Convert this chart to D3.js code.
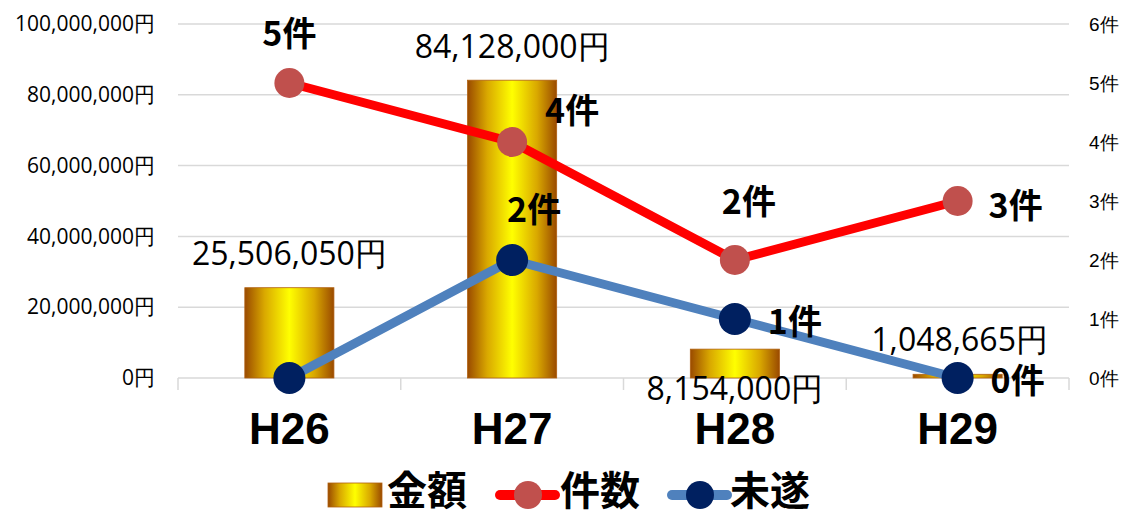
<!DOCTYPE html>
<html>
<head>
<meta charset="utf-8">
<script src="https://cdn.jsdelivr.net/npm/d3@7"></script>
<style>
  body { margin: 0; background: #fff; }
  svg { display: block; }
</style>
</head>
<body>
<div id="chart"></div>
<script>
const categories = ['H26', 'H27', 'H28', 'H29'];
const amounts = [25506050, 84128000, 8154000, 1048665];
const counts = [5, 4, 2, 3];
const attempts = [0, 2, 1, 0];
const amountTicks = [0, 20000000, 40000000, 60000000, 80000000, 100000000];
const countTicks = [0, 1, 2, 3, 4, 5, 6];
const legendLabels = ['金額', '件数', '未遂'];

const width = 1130;
const height = 513;
const plot = {left: 178, right: 1069, top: 24, bottom: 378};

const svg = d3.select('#chart')
    .append('svg')
    .attr('width', width)
    .attr('height', height);

const defs = svg.append('defs');
const grad = defs.append('linearGradient')
    .attr('id', 'gold')
    .attr('x1', '0%').attr('x2', '100%').attr('y1', '0%').attr('y2', '0%');
grad.append('stop').attr('offset', '0%').attr('stop-color', '#9a4a00');
grad.append('stop').attr('offset', '22%').attr('stop-color', '#d9a800');
grad.append('stop').attr('offset', '50%').attr('stop-color', '#ffff00');
grad.append('stop').attr('offset', '78%').attr('stop-color', '#d9a800');
grad.append('stop').attr('offset', '100%').attr('stop-color', '#9a4a00');

const x = d3.scaleBand()
    .domain(categories)
    .range([plot.left, plot.right])
    .paddingInner(0.6)
    .paddingOuter(0.3);

const xPoint = d => x(d) + x.bandwidth() / 2;

const yAmount = d3.scaleLinear()
    .domain([0, 100000000])
    .range([plot.bottom, plot.top]);

const yCount = d3.scaleLinear()
    .domain([0, 6])
    .range([plot.bottom, plot.top]);

// gridlines
svg.append('g')
    .selectAll('line')
    .data(amountTicks)
    .enter()
    .append('line')
    .attr('x1', plot.left)
    .attr('x2', plot.right)
    .attr('y1', d => yAmount(d))
    .attr('y2', d => yAmount(d))
    .attr('stroke', '#d9d9d9')
    .attr('stroke-width', 1.5);

// category boundary ticks
const bounds = d3.range(categories.length + 1).map(i => plot.left + i * (plot.right - plot.left) / categories.length);
svg.append('g')
    .selectAll('line')
    .data(bounds)
    .enter()
    .append('line')
    .attr('x1', d => d).attr('x2', d => d)
    .attr('y1', plot.bottom).attr('y2', plot.bottom + 12)
    .attr('stroke', '#d9d9d9')
    .attr('stroke-width', 1.5);

// left axis
const leftAxis = d3.axisLeft(yAmount)
    .tickValues(amountTicks)
    .tickSize(0)
    .tickPadding(0)
    .tickFormat(d => d3.format(',')(d) + '円');
svg.append('g')
    .attr('transform', `translate(155,0)`)
    .call(leftAxis)
    .call(g => g.select('.domain').remove())
    .selectAll('text')
    .attr('font-family', 'Open Sans, Liberation Sans, sans-serif')
    .attr('font-size', 21)
    .attr('fill', '#000');

// right axis
const rightAxis = d3.axisRight(yCount)
    .tickValues(countTicks)
    .tickSize(0)
    .tickPadding(0)
    .tickFormat(d => d + '件');
svg.append('g')
    .attr('transform', `translate(1089,0)`)
    .call(rightAxis)
    .call(g => g.select('.domain').remove())
    .selectAll('text')
    .attr('font-family', 'Liberation Sans, Arial, sans-serif')
    .attr('font-size', 19)
    .attr('fill', '#000');

// category labels
svg.append('g')
    .selectAll('text')
    .data(categories)
    .enter()
    .append('text')
    .attr('x', d => xPoint(d))
    .attr('y', 444)
    .attr('text-anchor', 'middle')
    .attr('font-family', 'Liberation Sans, Arial, sans-serif')
    .attr('font-weight', 'bold')
    .attr('font-size', 44)
    .text(d => d);

// bars
svg.append('g')
    .selectAll('rect')
    .data(amounts)
    .enter()
    .append('rect')
    .attr('x', (d, i) => x(categories[i]))
    .attr('width', x.bandwidth())
    .attr('y', d => yAmount(d))
    .attr('height', d => plot.bottom - yAmount(d))
    .attr('fill', 'url(#gold)')
    .attr('stroke', '#b06010')
    .attr('stroke-width', 0.8);

// lines
const countLine = d3.line()
    .x((d, i) => xPoint(categories[i]))
    .y(d => yCount(d));

svg.append('path')
    .datum(counts)
    .attr('d', countLine)
    .attr('fill', 'none')
    .attr('stroke', '#ff0000')
    .attr('stroke-width', 9)
    .attr('stroke-linejoin', 'round');

svg.append('path')
    .datum(attempts)
    .attr('d', countLine)
    .attr('fill', 'none')
    .attr('stroke', '#4f81bd')
    .attr('stroke-width', 9)
    .attr('stroke-linejoin', 'round');

svg.append('g')
    .selectAll('circle')
    .data(counts)
    .enter()
    .append('circle')
    .attr('cx', (d, i) => xPoint(categories[i]))
    .attr('cy', d => yCount(d))
    .attr('r', 15)
    .attr('fill', '#c0504d');

svg.append('g')
    .selectAll('circle')
    .data(attempts)
    .enter()
    .append('circle')
    .attr('cx', (d, i) => xPoint(categories[i]))
    .attr('cy', d => yCount(d))
    .attr('r', 16)
    .attr('fill', '#002060');

// data labels
const labelFont = 'Noto Sans CJK JP, sans-serif';
const amountOffsets = [[0, -23], [0, -22], [0, 51], [2, -23]];
svg.append('g')
    .selectAll('text')
    .data(amounts)
    .enter()
    .append('text')
    .attr('x', (d, i) => xPoint(categories[i]) + amountOffsets[i][0])
    .attr('y', (d, i) => yAmount(d) + amountOffsets[i][1])
    .attr('text-anchor', 'middle')
    .attr('font-family', 'Open Sans, Liberation Sans, sans-serif')
    .attr('font-size', 32)
    .text(d => d3.format(',')(d) + '円');

const countOffsets = [[0, -37], [60, -19], [14, -46], [58, 17]];
svg.append('g')
    .selectAll('text')
    .data(counts)
    .enter()
    .append('text')
    .attr('x', (d, i) => xPoint(categories[i]) + countOffsets[i][0])
    .attr('y', (d, i) => yCount(d) + countOffsets[i][1])
    .attr('text-anchor', 'middle')
    .attr('font-family', labelFont)
    .attr('font-weight', 'bold')
    .attr('font-size', 34)
    .text(d => d + '件');

const attemptOffsets = [[0, 0], [22, -38], [60, 15], [60, 15]];
svg.append('g')
    .selectAll('text')
    .data(attempts)
    .enter()
    .filter((d, i) => i > 0)
    .append('text')
    .attr('x', (d, i) => xPoint(categories[i + 1]) + attemptOffsets[i + 1][0])
    .attr('y', (d, i) => yCount(d) + attemptOffsets[i + 1][1])
    .attr('text-anchor', 'middle')
    .attr('font-family', labelFont)
    .attr('font-weight', 'bold')
    .attr('font-size', 34)
    .text(d => d + '件');

// legend
const legend = svg.append('g').attr('transform', 'translate(0,495)');
legend.append('rect')
    .attr('x', 328).attr('y', -12)
    .attr('width', 54).attr('height', 24)
    .attr('fill', 'url(#gold)')
    .attr('stroke', '#b06010')
    .attr('stroke-width', 0.8);
legend.append('line')
    .attr('x1', 500).attr('x2', 555).attr('y1', 0).attr('y2', 0)
    .attr('stroke', '#ff0000').attr('stroke-width', 10).attr('stroke-linecap', 'round');
legend.append('circle').attr('cx', 528).attr('cy', 0).attr('r', 14).attr('fill', '#c0504d');
legend.append('line')
    .attr('x1', 672).attr('x2', 727).attr('y1', 0).attr('y2', 0)
    .attr('stroke', '#4f81bd').attr('stroke-width', 10).attr('stroke-linecap', 'round');
legend.append('circle').attr('cx', 700).attr('cy', 0).attr('r', 14).attr('fill', '#002060');

const legendX = [387, 560, 730];
legend.selectAll('.legend-text')
    .data(legendLabels)
    .enter()
    .append('text')
    .attr('class', 'legend-text')
    .attr('x', (d, i) => legendX[i])
    .attr('y', 10)
    .attr('font-family', labelFont)
    .attr('font-weight', 'bold')
    .attr('font-size', 40)
    .text(d => d);
</script>
</body>
</html>
